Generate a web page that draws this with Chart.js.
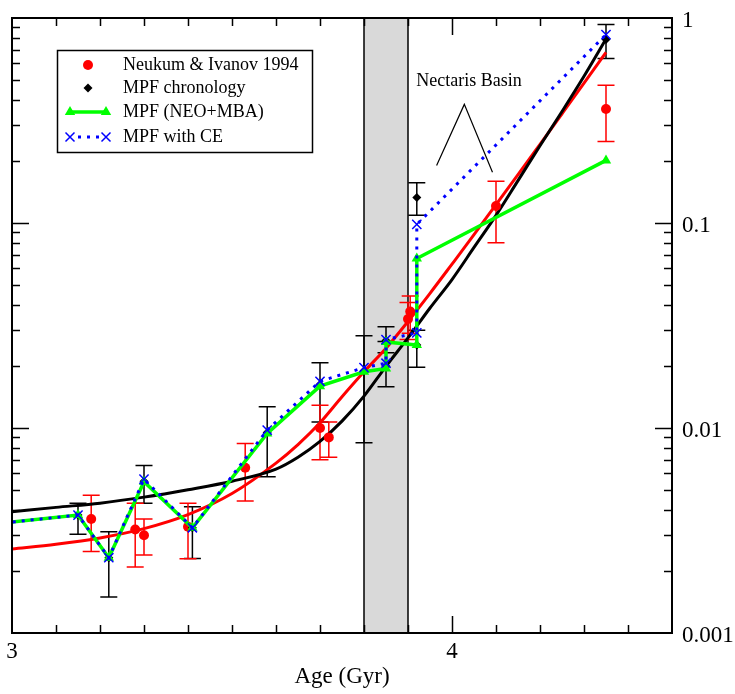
<!DOCTYPE html>
<html>
<head>
<meta charset="utf-8">
<script src="https://cdn.jsdelivr.net/npm/chart.js@4.4.0/dist/chart.umd.min.js"></script>
<style>
  html, body { margin: 0; padding: 0; background: #fff; }
</style>
</head>
<body>
<canvas id="chart" width="735" height="694"></canvas>
<script>
// Smooth chronology curves (age in Gyr, N(1) per km^2)
const curveAges = [3.0, 3.1, 3.2, 3.3, 3.4, 3.5, 3.6, 3.65, 3.7, 3.75, 3.8, 3.85,
  3.9, 3.95, 4.0, 4.05, 4.1, 4.15, 4.2, 4.25, 4.3, 4.35];
const neukumCurve = [0.00257, 0.00271, 0.00291, 0.00323, 0.00378, 0.00479, 0.00674,
  0.0083, 0.0106, 0.0142, 0.0188, 0.0245, 0.0331, 0.0454, 0.063, 0.0877, 0.123,
  0.172, 0.242, 0.341, 0.481, 0.68];
const mpfCurve = [0.0039, 0.0041, 0.0043, 0.0046, 0.0050, 0.0055, 0.0063, 0.0072,
  0.0086, 0.0108, 0.0143, 0.0200, 0.0275, 0.0385, 0.053, 0.076, 0.109, 0.161, 0.238,
  0.35, 0.52, 0.79];

// Neukum & Ivanov 1994 points with error bars
const neukumAges = [3.18, 3.28, 3.30, 3.40, 3.53, 3.70, 3.72, 3.90, 3.905, 4.10, 4.35];
const neukumN = [0.0036, 0.0032, 0.0030, 0.0033, 0.0064, 0.0100, 0.0090, 0.034, 0.037, 0.121, 0.36];
const neukumLow = [0.0025, 0.0021, 0.0024, 0.0023, 0.0044, 0.0070, 0.0072, 0.027, 0.029, 0.080, 0.25];
const neukumHigh = [0.0047, 0.0043, 0.0036, 0.0043, 0.0084, 0.0129, 0.0107, 0.041, 0.044, 0.160, 0.47];

// MPF model points (first one lies left of the axis)
const mpfAges = [2.9, 3.15, 3.22, 3.30, 3.41, 3.58, 3.70, 3.80, 3.85, 3.85, 3.92, 3.92, 4.35];
const neoMbaN = [0.0033, 0.00376, 0.00233, 0.00547, 0.00326, 0.0094, 0.0160, 0.0188,
  0.0195, 0.0263, 0.0254, 0.0671, 0.202];
const withCeN = [0.0033, 0.00376, 0.00233, 0.00563, 0.00326, 0.00977, 0.0169, 0.0197,
  0.0207, 0.0270, 0.0291, 0.0984, 0.83];

// MPF chronology (diamonds) with error bars
const chronoAges = [3.15, 3.22, 3.30, 3.41, 3.58, 3.70, 3.80, 3.85, 3.85, 3.92, 3.92, 4.35];
const chronoN = [0.00376, 0.00233, 0.0055, 0.00326, 0.0095, 0.0163, 0.0190, 0.0200,
  0.0267, 0.0254, 0.133, 0.785];
const chronoLow = [0.00303, 0.0015, 0.00429, 0.00231, 0.00578, 0.0107, 0.00847, 0.0159,
  0.0233, 0.0198, 0.109, 0.634];
const chronoHigh = [0.00429, 0.00312, 0.00657, 0.00413, 0.0127, 0.0208, 0.0282, 0.0264,
  0.0312, 0.030, 0.157, 0.93];

// shaded age band and the Nectaris Basin marker
const bandAges = [3.8, 3.9];
const nectarisLabel = { x: 3.919, y: 0.49, text: "Nectaris Basin" };
const nectarisLines = [{ x: 3.965, y: 0.191 }, { x: 4.028, y: 0.379 }, { x: 4.092, y: 0.177 }];

const SERIF = "'Liberation Serif', 'Times New Roman', serif";

function pts(xs, ys) {
  return xs.map((x, i) => ({ x, y: ys[i] }));
}

// gray band + error bars, under the data
const underlayPlugin = {
  id: "underlay",
  beforeDatasetsDraw(chart) {
    const { ctx, chartArea: a, scales: { x, y } } = chart;
    const x0 = x.getPixelForValue(bandAges[0]);
    const x1 = x.getPixelForValue(bandAges[1]);
    ctx.save();
    ctx.fillStyle = "#d9d9d9";
    ctx.fillRect(x0, a.top, x1 - x0, a.bottom - a.top);
    ctx.strokeStyle = "#000";
    ctx.lineWidth = 1.5;
    ctx.beginPath();
    ctx.moveTo(x0, a.top); ctx.lineTo(x0, a.bottom);
    ctx.moveTo(x1, a.top); ctx.lineTo(x1, a.bottom);
    ctx.stroke();

    chart.data.datasets.forEach((ds) => {
      if (!ds.errLow) return;
      ctx.strokeStyle = ds.errColor;
      ctx.lineWidth = 1.5;
      ctx.beginPath();
      ds.data.forEach((p, i) => {
        const px = x.getPixelForValue(p.x);
        const lo = y.getPixelForValue(ds.errLow[i]);
        const hi = y.getPixelForValue(ds.errHigh[i]);
        ctx.moveTo(px, lo); ctx.lineTo(px, hi);
        ctx.moveTo(px - 8.5, lo); ctx.lineTo(px + 8.5, lo);
        ctx.moveTo(px - 8.5, hi); ctx.lineTo(px + 8.5, hi);
      });
      ctx.stroke();
    });
    ctx.restore();
  },
};

// frame, inward ticks, annotation and legend
const overlayPlugin = {
  id: "overlay",
  afterDraw(chart) {
    const { ctx, chartArea: a, scales: { x, y } } = chart;
    ctx.save();
    ctx.strokeStyle = "#000";
    ctx.lineWidth = 1.5;
    ctx.beginPath();
    for (let i = 1; i < 15; i++) {
      const v = 3 + i / 10;
      const px = Math.round(x.getPixelForValue(v)) + 0.5;
      const len = i === 10 ? 17 : 8;
      ctx.moveTo(px, a.bottom); ctx.lineTo(px, a.bottom - len);
      ctx.moveTo(px, a.top); ctx.lineTo(px, a.top + len);
    }
    [0.001, 0.01, 0.1].forEach((d) => {
      for (let k = 1; k <= 9; k++) {
        if (k === 1 && d === 0.001) continue;
        const py = Math.round(y.getPixelForValue(k * d)) + 0.5;
        const len = k === 1 ? 17 : 8;
        ctx.moveTo(a.left, py); ctx.lineTo(a.left + len, py);
        ctx.moveTo(a.right, py); ctx.lineTo(a.right - len, py);
      }
    });
    ctx.stroke();
    ctx.lineWidth = 2;
    ctx.strokeRect(a.left, a.top, a.right - a.left, a.bottom - a.top);

    // Nectaris Basin
    ctx.fillStyle = "#000";
    ctx.font = "18px " + SERIF;
    ctx.textBaseline = "middle";
    ctx.textAlign = "left";
    ctx.fillText(nectarisLabel.text, x.getPixelForValue(nectarisLabel.x), y.getPixelForValue(nectarisLabel.y));
    ctx.lineWidth = 1.2;
    ctx.beginPath();
    nectarisLines.forEach((p, i) => {
      const px = x.getPixelForValue(p.x), py = y.getPixelForValue(p.y);
      if (i === 0) ctx.moveTo(px, py); else ctx.lineTo(px, py);
    });
    ctx.stroke();

    // legend
    const bx = 57, by = 50, bw = 255, bh = 102;
    ctx.lineWidth = 1.5;
    ctx.strokeRect(bx + 0.5, by + 0.5, bw, bh);
    const rows = [65, 88, 112, 137];
    const sx0 = 70, sx1 = 106, sxm = 88, tx = 123;
    // red circle
    ctx.fillStyle = "#ff0000";
    ctx.beginPath(); ctx.arc(sxm, rows[0], 5, 0, Math.PI * 2); ctx.fill();
    // black diamond
    ctx.fillStyle = "#000";
    ctx.beginPath();
    ctx.moveTo(sxm - 4.5, rows[1]); ctx.lineTo(sxm, rows[1] - 4.5);
    ctx.lineTo(sxm + 4.5, rows[1]); ctx.lineTo(sxm, rows[1] + 4.5);
    ctx.closePath(); ctx.fill();
    // green line with triangles
    ctx.strokeStyle = "#00ff00"; ctx.fillStyle = "#00ff00"; ctx.lineWidth = 3.5;
    ctx.beginPath(); ctx.moveTo(sx0, rows[2]); ctx.lineTo(sx1, rows[2]); ctx.stroke();
    [sx0, sx1].forEach((cx) => {
      ctx.beginPath();
      ctx.moveTo(cx, rows[2] - 6); ctx.lineTo(cx + 5.2, rows[2] + 3); ctx.lineTo(cx - 5.2, rows[2] + 3);
      ctx.closePath(); ctx.fill();
    });
    // blue dotted with crosses
    ctx.strokeStyle = "#0000ff"; ctx.lineWidth = 3;
    ctx.setLineDash([3, 6]);
    ctx.beginPath(); ctx.moveTo(sx0 + 8, rows[3]); ctx.lineTo(sx1 - 5, rows[3]); ctx.stroke();
    ctx.setLineDash([]);
    ctx.lineWidth = 1.5;
    [sx0, sx1].forEach((cx) => {
      ctx.beginPath();
      ctx.moveTo(cx - 4.5, rows[3] - 4.5); ctx.lineTo(cx + 4.5, rows[3] + 4.5);
      ctx.moveTo(cx - 4.5, rows[3] + 4.5); ctx.lineTo(cx + 4.5, rows[3] - 4.5);
      ctx.stroke();
    });
    ctx.fillStyle = "#000";
    ctx.font = "18px " + SERIF;
    const labels = chart.data.datasets.filter((d) => d.legendRow !== undefined)
      .sort((p, q) => p.legendRow - q.legendRow);
    labels.forEach((d) => ctx.fillText(d.label, tx, rows[d.legendRow]));
    ctx.restore();
  },
};

new Chart(document.getElementById("chart"), {
  type: "scatter",
  data: {
    datasets: [
      {
        label: "MPF with CE",
        legendRow: 3,
        data: pts(mpfAges, withCeN),
        showLine: true,
        borderColor: "#0000ff",
        borderWidth: 3,
        borderDash: [3, 6],
        pointStyle: "crossRot",
        pointRadius: 6.5,
        pointBorderWidth: 1.5,
        pointBorderColor: "#0000ff",
        pointBackgroundColor: "#0000ff",
        order: 1,
      },
      {
        label: "MPF (NEO+MBA)",
        legendRow: 2,
        data: pts(mpfAges, neoMbaN),
        showLine: true,
        borderColor: "#00ff00",
        borderWidth: 3.5,
        pointStyle: "triangle",
        pointRadius: 6,
        pointBorderWidth: 0,
        pointBackgroundColor: "#00ff00",
        order: 2,
      },
      {
        label: "MPF chronology",
        legendRow: 1,
        data: pts(chronoAges, chronoN),
        errLow: chronoLow,
        errHigh: chronoHigh,
        errColor: "#000",
        pointStyle: "rectRot",
        pointRadius: 4.5,
        pointBorderWidth: 0,
        pointBackgroundColor: "#000",
        order: 3,
      },
      {
        label: "Neukum & Ivanov 1994",
        legendRow: 0,
        data: pts(neukumAges, neukumN),
        errLow: neukumLow,
        errHigh: neukumHigh,
        errColor: "#ff0000",
        pointStyle: "circle",
        pointRadius: 5,
        pointBorderWidth: 0,
        pointBackgroundColor: "#ff0000",
        order: 4,
      },
      {
        label: "MPF curve",
        data: pts(curveAges, mpfCurve),
        showLine: true,
        borderColor: "#000",
        borderWidth: 3,
        pointRadius: 0,
        cubicInterpolationMode: "monotone",
        order: 5,
      },
      {
        label: "Neukum curve",
        data: pts(curveAges, neukumCurve),
        showLine: true,
        borderColor: "#ff0000",
        borderWidth: 3,
        pointRadius: 0,
        cubicInterpolationMode: "monotone",
        order: 6,
      },
    ],
  },
  options: {
    responsive: false,
    animation: false,
    layout: { padding: { left: 12, top: 18, right: 0, bottom: 0 } },
    plugins: {
      legend: { display: false },
      tooltip: { enabled: false },
    },
    scales: {
      x: {
        type: "linear",
        min: 3,
        max: 4.5,
        grid: { display: false, drawTicks: false },
        border: { display: false },
        ticks: {
          stepSize: 1,
          autoSkip: false,
          maxRotation: 0,
          padding: 5,
          color: "#000",
          font: { family: SERIF, size: 23 },
          callback: (v) => (Math.abs(v - Math.round(v)) < 1e-6 ? String(Math.round(v)) : ""),
        },
        title: {
          display: true,
          text: "Age (Gyr)",
          color: "#000",
          font: { family: SERIF, size: 23 },
          padding: { top: 0, bottom: 3 },
        },
        afterFit: (s) => { s.height = 61; s.paddingLeft = 0; s.paddingRight = 0; },
      },
      y: {
        type: "logarithmic",
        position: "right",
        min: 0.001,
        max: 1,
        grid: { display: false, drawTicks: false },
        border: { display: false },
        ticks: {
          autoSkip: false,
          padding: 10,
          labelOffset: 3,
          color: "#000",
          font: { family: SERIF, size: 23 },
          callback: (v) => {
            const e = Math.log10(v);
            return Math.abs(e - Math.round(e)) < 1e-6 ? String(Number(v.toPrecision(1))) : "";
          },
        },
        afterFit: (s) => { s.width = 63; s.paddingTop = 0; s.paddingBottom = 0; },
      },
    },
  },
  plugins: [underlayPlugin, overlayPlugin],
});
</script>
</body>
</html>
